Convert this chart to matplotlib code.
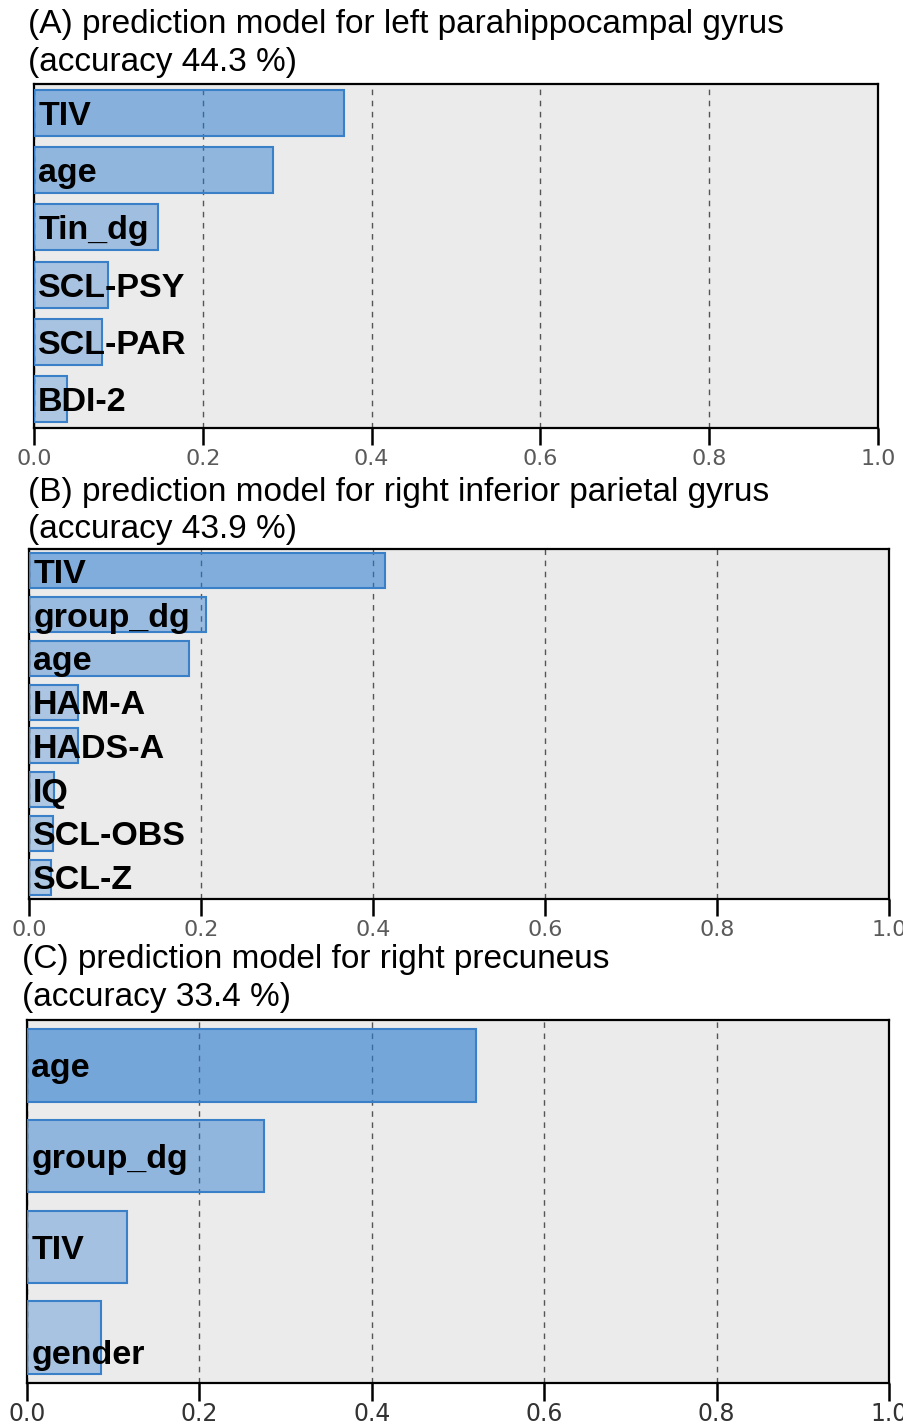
import matplotlib
matplotlib.use('Agg')
import matplotlib.pyplot as plt

# ─── Data ────────────────────────────────────────────────────────────────────

titles = [
    "(A) prediction model for left parahippocampal gyrus",
    "(B) prediction model for right inferior parietal gyrus",
    "(C) prediction model for right precuneus",
]
accuracies = [44.3, 43.9, 33.4]

feat_a = ['TIV', 'age', 'Tin_dg', 'SCL-PSY', 'SCL-PAR', 'BDI-2']
imp_a = [0.367, 0.283, 0.147, 0.088, 0.081, 0.039]

feat_b = ['TIV', 'group_dg', 'age', 'HAM-A', 'HADS-A', 'IQ', 'SCL-OBS', 'SCL-Z']
imp_b = [0.414, 0.206, 0.186, 0.057, 0.057, 0.029, 0.028, 0.025]

feat_c = ['age', 'group_dg', 'TIV', 'gender']
imp_c = [0.521, 0.275, 0.116, 0.086]

xticks = [0.0, 0.2, 0.4, 0.6, 0.8, 1.0]

# ─── Layout (figure fractions) ───────────────────────────────────────────────

W, H = 904, 1425
panels = [
    # feats, imps, axes rect px (left, top, right, bottom), title x px, baselines px,
    # tick label size, tick label colour, tick length, tick pad
    (feat_a, imp_a, (34, 84, 878, 428), 28, (33, 71), 16, '#5a5a5a', 12, 3),
    (feat_b, imp_b, (29, 549, 889, 899), 28, (501, 538), 16, '#5a5a5a', 12, 3),
    (feat_c, imp_c, (27, 1020, 889, 1383), 22, (968, 1006), 17, '#333333', 13, 1),
]
label_dy = {'gender': -10}

BAR = '#2b7bd0'
EDGE = '#3a80c8'
BG = '#ebebeb'

fig = plt.figure(figsize=(W / 100, H / 100), dpi=100)

for i, (feats, imps, rect, tx, bls, tsize, tcolor, tlen, tpad) in enumerate(panels):
    l, t, r, b = rect
    ax = fig.add_axes([l / W, 1 - b / H, (r - l) / W, (b - t) / H])
    ax.set_facecolor(BG)
    ypos = list(range(len(feats)))[::-1]
    for y, v in zip(ypos, imps):
        ax.barh(y, v, height=0.8, color=BAR, alpha=0.3 + 0.6 * v,
                edgecolor='none', zorder=2)
        ax.barh(y, v, height=0.8, color='none', edgecolor=EDGE,
                linewidth=1.5, zorder=3)
    for y, name in zip(ypos, feats):
        ax.annotate(name, xy=(0, y), xytext=(3, label_dy.get(name, 0)),
                    textcoords='offset points', ha='left', va='center_baseline',
                    fontsize=24.5, fontweight='bold', family='Liberation Sans',
                    color='black', zorder=4)
    ax.set_xlim(0, 1)
    ax.set_ylim(-0.5, len(feats) - 0.5)
    ax.set_xticks(xticks)
    ax.set_xticklabels([f'{x:.1f}' for x in xticks])
    ax.set_yticks([])
    ax.tick_params(axis='x', direction='out', length=tlen, width=1.8,
                   labelsize=tsize, labelcolor=tcolor, pad=tpad)
    ax.xaxis.grid(True, linestyle=(0, (4, 4)), color='#555555', linewidth=1)
    ax.set_axisbelow(True)
    for spine in ax.spines.values():
        spine.set_edgecolor('black')
        spine.set_linewidth(1.6)

    fig.text(tx / W, 1 - bls[0] / H, titles[i], ha='left', va='baseline',
             fontsize=24, family='Liberation Sans', color='black')
    fig.text(tx / W, 1 - bls[1] / H, f'(accuracy {accuracies[i]} %)',
             ha='left', va='baseline', fontsize=24, family='Liberation Sans',
             color='black')

fig.savefig('out.png', dpi=100, facecolor='white')
